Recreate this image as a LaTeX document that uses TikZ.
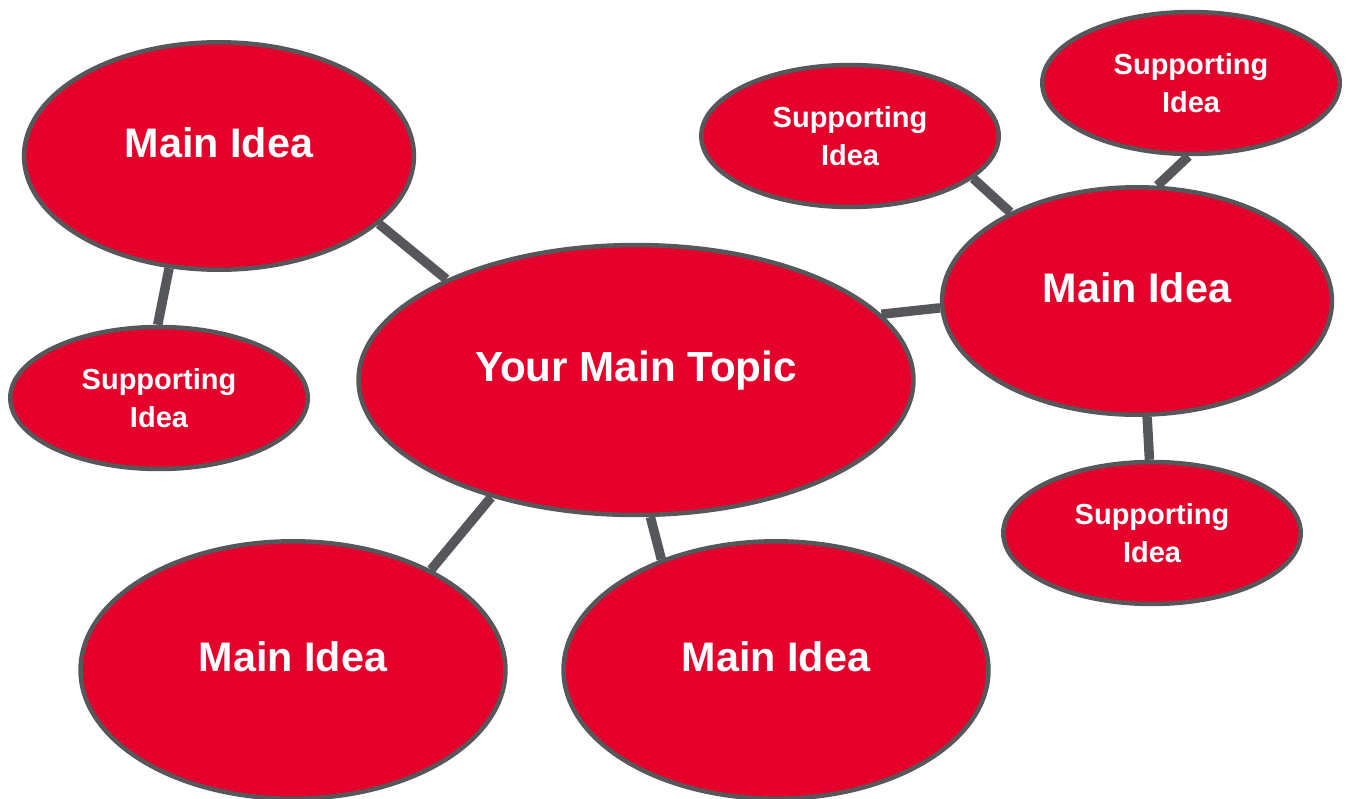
\documentclass[tikz,border=0pt]{standalone}
\usepackage{fontspec}
\setmainfont{Liberation Sans}
\usepackage{xcolor}
\usepackage{tikz}
\usetikzlibrary{shapes,positioning,calc}

\definecolor{bubblered}{HTML}{E4002B}
\definecolor{rimgray}{HTML}{55575B}

\begin{document}
\begin{tikzpicture}[x=0.02cm,y=-0.02cm,
        bubble/.style={ellipse,draw=rimgray,line width=0.09cm,fill=bubblered,
            text=white,font=\bfseries,inner sep=0pt,align=center},
        topic/.style={bubble,minimum width=11.1cm,minimum height=5.4cm,text height=17pt,text depth=15pt,font=\bfseries\fontsize{24}{28}\selectfont},
        mainidea/.style={bubble,minimum width=7.8cm,minimum height=4.55cm,text height=17pt,text depth=15pt,font=\bfseries\fontsize{23.5}{28}\selectfont},
        bigidea/.style={bubble,minimum width=8.5cm,minimum height=5.15cm,text height=17pt,text depth=15pt,font=\bfseries\fontsize{23.5}{28}\selectfont},
        supidea/.style={bubble,minimum width=5.95cm,minimum height=2.84cm,font=\bfseries\fontsize{16.5}{22}\selectfont},
        link/.style={draw=rimgray,line width=0.19cm}]
    \useasboundingbox (0,0) rectangle (1349,798);
    \begin{scope}
        \clip (0,0) rectangle (1349,798);
        % topic and ideas
        \node[topic] (topic) at (636,380) {Your Main Topic};
        \node[mainidea] (tlmain) at (219,156) {Main Idea};
        \node[supidea] (lsup) at (159,398) {Supporting\\Idea};
        \node[bigidea] (blmain) at (293,670) {Main Idea};
        \node[bigidea] (bmmain) at (776,670) {Main Idea};
        \node[mainidea] (rmain) at (1137,301) {Main Idea};
        \node[supidea] (tsup) at (850,136) {Supporting\\Idea};
        \node[supidea] (trsup) at (1191,83) {Supporting\\Idea};
        \node[supidea] (brsup) at (1152,533) {Supporting\\Idea};
    \end{scope}

    % links
    \draw[link] (tlmain.-23) -- (topic.152);
    \draw[link] (tlmain.-114) -- (lsup.91);
    \draw[link] (topic.15) -- (rmain.182);
    \draw[link] (tsup.-19) -- (rmain.145);
    \draw[link] (rmain.80) -- (trsup.-92);
    \draw[link] (rmain.-85) -- (brsup.92);
    \draw[link] (topic.-141) -- (blmain.36);
    \draw[link] (topic.-84) -- (bmmain.136);
\end{tikzpicture}
\end{document}
